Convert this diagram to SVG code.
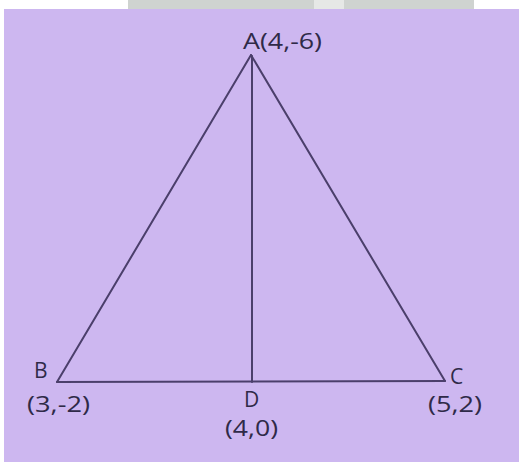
<svg xmlns="http://www.w3.org/2000/svg" width="519" height="462" viewBox="0 0 519 462">
<style>
.t{font-family:"Open Sans","Noto Sans",sans-serif;font-size:22px;fill:#2f2a48}
.s{font-family:"Open Sans","Noto Sans",sans-serif;font-size:21px;fill:#2f2a48}
.l{stroke:#4b3f6b;stroke-width:2;fill:none;stroke-linecap:round}
</style>
<rect x="0" y="0" width="519" height="462" fill="#ffffff"/>
<rect x="128" y="0" width="346" height="9" fill="#cfd3d0"/>
<rect x="314" y="0" width="30" height="9" fill="#e6e8e6"/>
<rect x="4" y="9" width="515" height="453" fill="#cdb7f0"/>
<g id="connectors">
<line class="l" x1="251" y1="55" x2="57" y2="382"/>
<line class="l" x1="251" y1="55" x2="445" y2="381"/>
<line class="l" x1="57" y1="382" x2="445" y2="381"/>
<line class="l" x1="252" y1="56" x2="252" y2="382"/>
</g>
<g id="A"><text class="t" x="243" y="49" textLength="79" lengthAdjust="spacingAndGlyphs">A(4,-6)</text></g>
<g id="B"><text class="s" x="34" y="378">B</text><text class="t" x="27" y="412" textLength="63" lengthAdjust="spacingAndGlyphs">(3,-2)</text></g>
<g id="C"><text class="s" x="450" y="384">C</text><text class="t" x="428" y="412" textLength="54" lengthAdjust="spacingAndGlyphs">(5,2)</text></g>
<g id="D"><text class="s" x="244" y="407">D</text><text class="t" x="225" y="436" textLength="53" lengthAdjust="spacingAndGlyphs">(4,0)</text></g>
</svg>
